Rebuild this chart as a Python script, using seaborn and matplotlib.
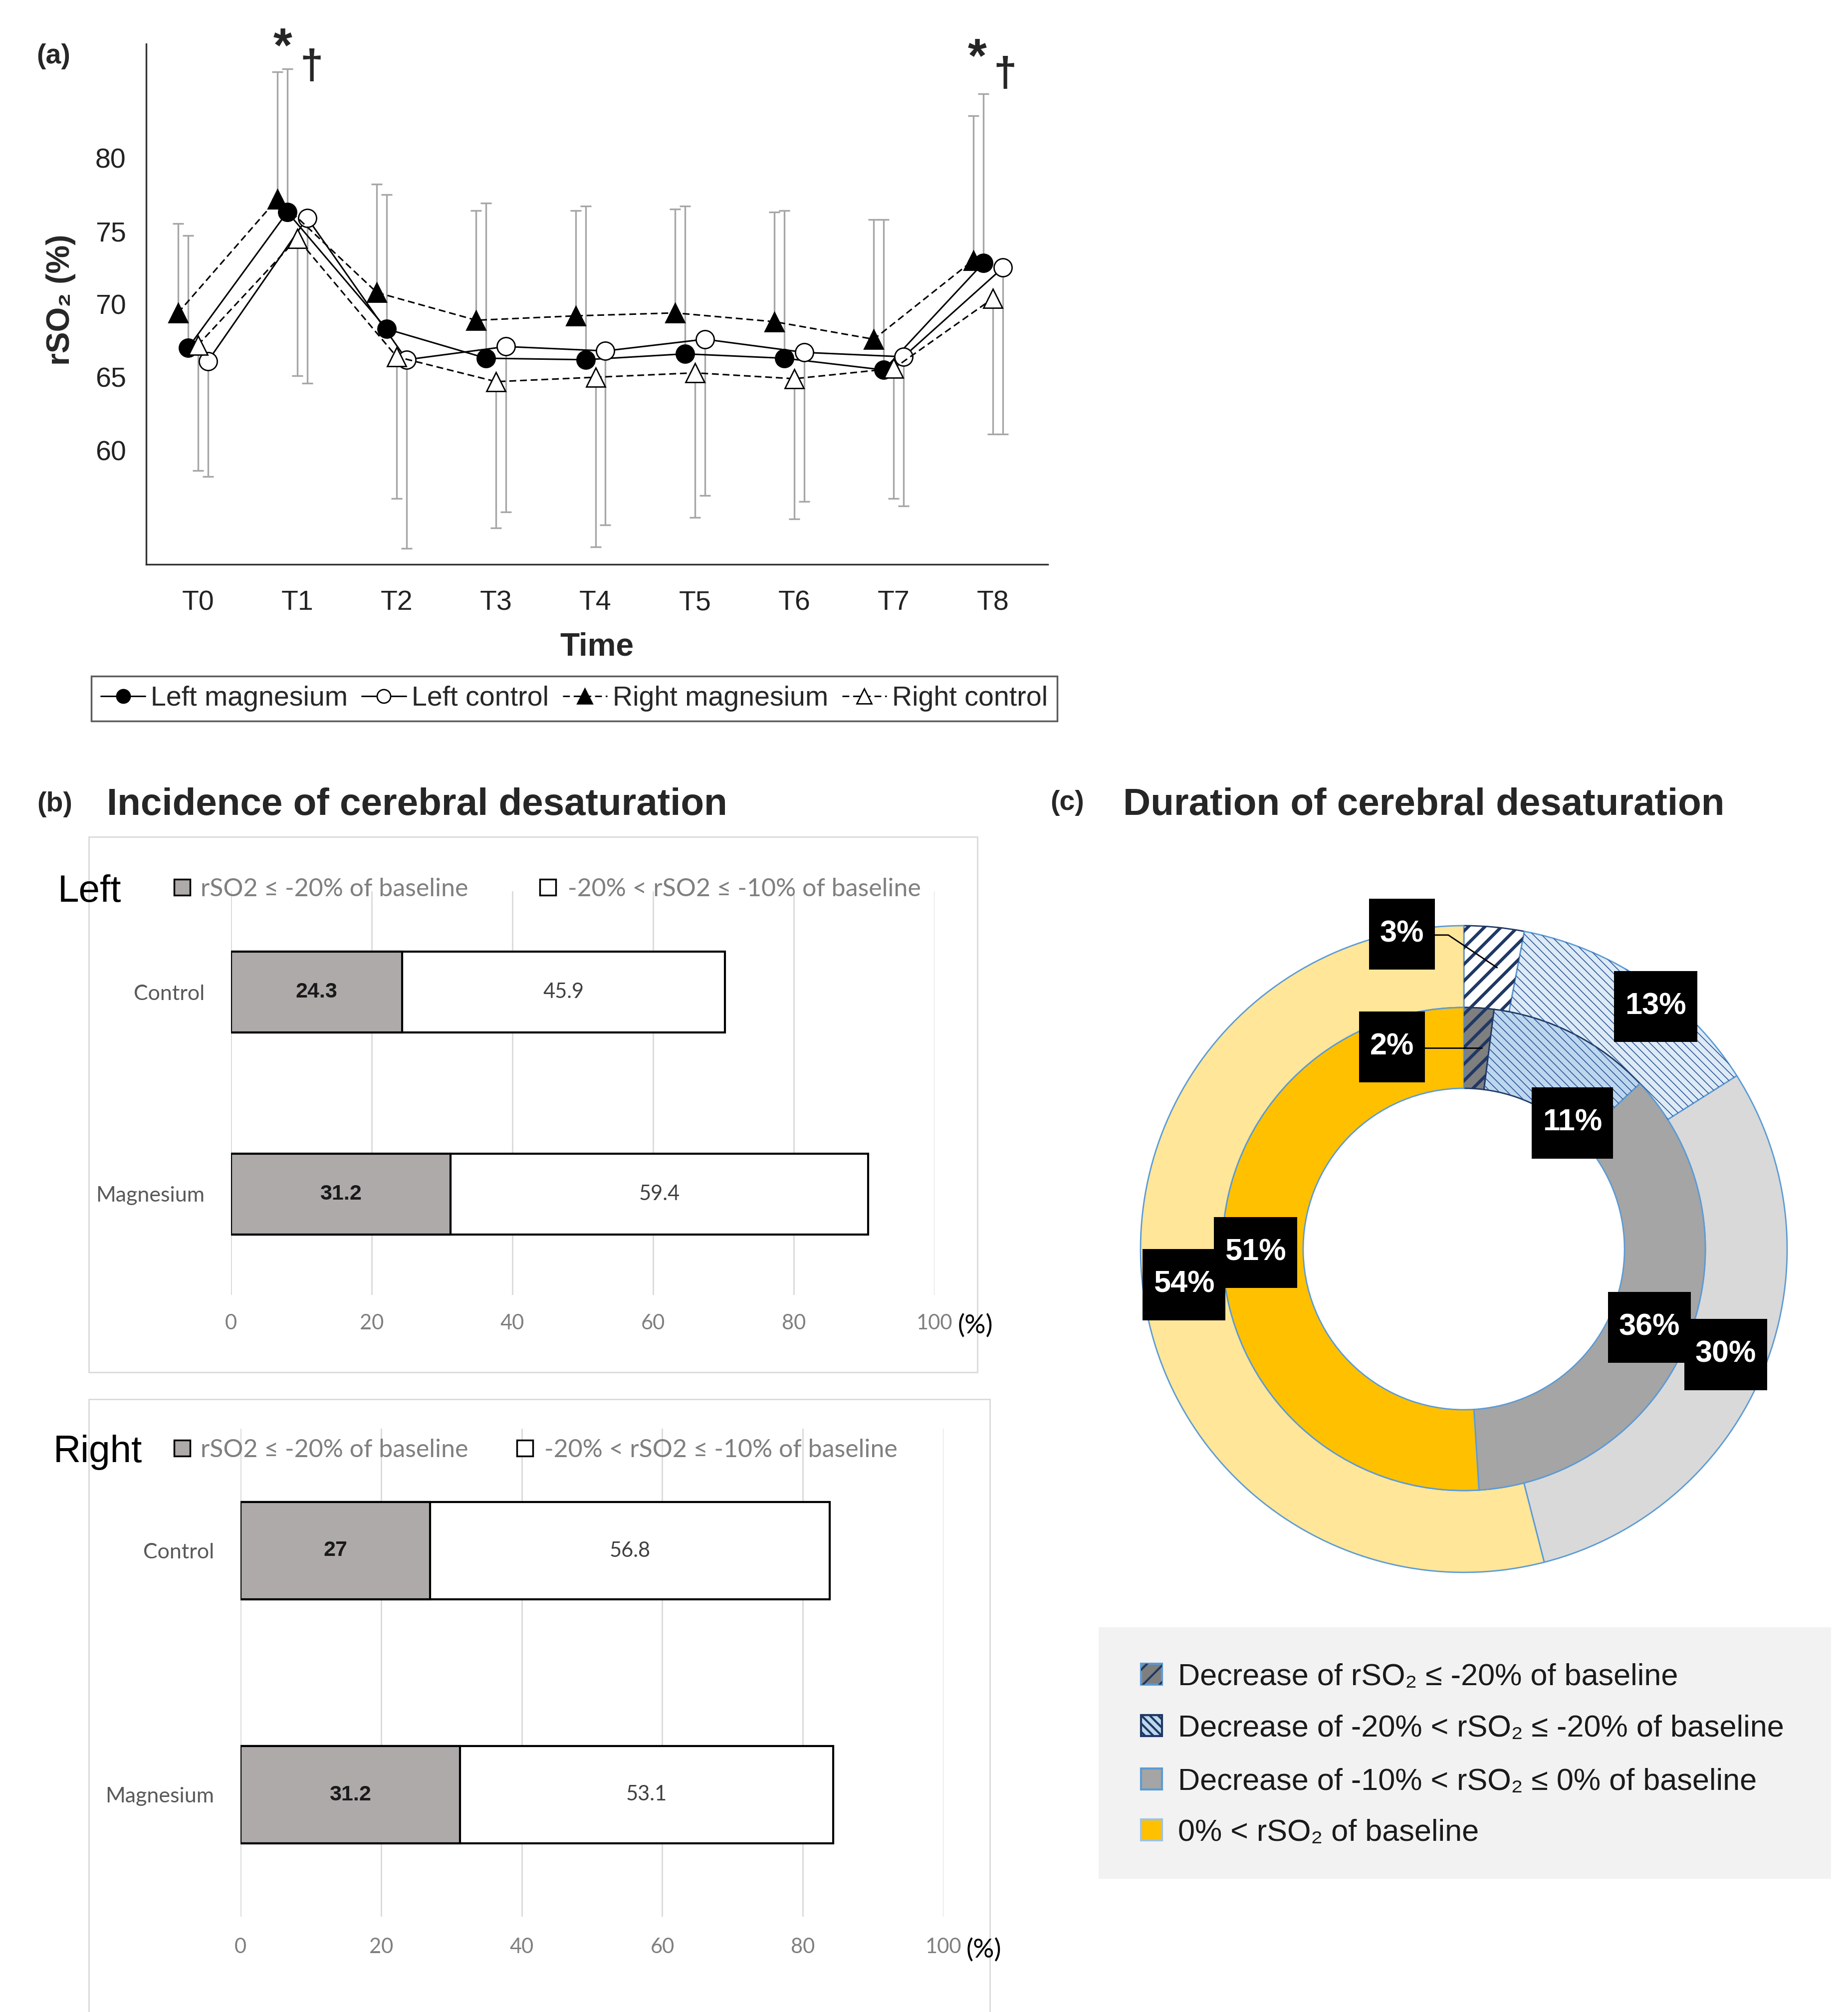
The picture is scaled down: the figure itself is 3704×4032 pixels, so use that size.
import numpy as np
import pandas as pd
import seaborn as sns
import matplotlib.pyplot as plt
from matplotlib.patches import Rectangle, Wedge
from matplotlib.path import Path

# ---- data: (a) rSO2 over time ----
time_labels = ['T0', 'T1', 'T2', 'T3', 'T4', 'T5', 'T6', 'T7', 'T8']
left_mg = [67.0, 76.3, 68.3, 66.3, 66.2, 66.6, 66.3, 65.5, 72.8]
left_ctrl = [66.1, 75.9, 66.2, 67.1, 66.8, 67.6, 66.7, 66.4, 72.5]
right_mg = [69.4, 77.2, 70.8, 68.9, 69.2, 69.4, 68.8, 67.6, 73.0]
right_ctrl = [67.2, 74.5, 66.4, 64.7, 65.0, 65.3, 64.9, 65.6, 70.4]
# magnesium groups: upper end of the error bar, control groups: lower end
left_mg_upper = [74.7, 86.1, 77.5, 76.9, 76.7, 76.7, 76.4, 75.8, 84.4]
right_mg_upper = [75.5, 85.9, 78.2, 76.4, 76.4, 76.5, 76.3, 75.8, 82.9]
left_ctrl_lower = [58.2, 64.6, 53.3, 55.8, 54.9, 56.9, 56.5, 56.2, 61.1]
right_ctrl_lower = [58.6, 65.1, 56.7, 54.7, 53.4, 55.4, 55.3, 56.7, 61.1]

# ---- data: (b) incidence ----
groups = ['Control', 'Magnesium']
left_severe = [24.3, 31.2]
left_moderate = [45.9, 59.4]
right_severe = [27, 31.2]
right_moderate = [56.8, 53.1]

# ---- data: (c) duration ----
outer_pct = [3, 13, 30, 54]
inner_pct = [2, 11, 36, 51]
duration_labels = ['Decrease of rSO\u2082 \u2264 -20% of baseline',
                   'Decrease of -20% < rSO\u2082 \u2264 -20% of baseline',
                   'Decrease of -10% < rSO\u2082 \u2264 0% of baseline',
                   '0% < rSO\u2082 of baseline']

W, H, DPI = 3705, 4032, 100
ARIAL = ['Liberation Sans', 'DejaVu Sans']
CALIBRI = ['Lato', 'DejaVu Sans']
NAVY = '#1F3864'
EDGE_BLUE = '#5B9BD5'

sns.set_theme(style='white')
plt.rcParams['font.family'] = ARIAL
plt.rcParams['hatch.linewidth'] = 3.0

fig = plt.figure(figsize=(W / DPI, H / DPI), dpi=DPI, facecolor='white')


def rect(x0, y0, x1, y1):
    return [x0 / W, 1 - y1 / H, (x1 - x0) / W, (y1 - y0) / H]


def ftext(x, yc, s, size, ha='left', **kw):
    yb = yc + 0.36 * size * DPI / 72
    return fig.text(x / W, 1 - yb / H, s, fontsize=size, ha=ha, va='baseline', **kw)


# ================= (a) =================
ax = fig.add_axes(rect(293, 88, 2100, 1131))
x = np.arange(len(time_labels))
dash = (0, (4.5, 2.5))
series = [
    ('Left magnesium', left_mg, 'o', 'black', '-', -0.1, 'up', left_mg_upper),
    ('Left control', left_ctrl, 'o', 'white', '-', 0.1, 'down', left_ctrl_lower),
    ('Right magnesium', right_mg, '^', 'black', dash, -0.2, 'up', right_mg_upper),
    ('Right control', right_ctrl, '^', 'white', dash, 0.0, 'down', right_ctrl_lower),
]
for name, mean, mk, fc, ls, off, side, lim in series:
    mean = np.array(mean)
    lim = np.array(lim)
    if side == 'up':
        yerr = [np.zeros_like(mean), lim - mean]
    else:
        yerr = [mean - lim, np.zeros_like(mean)]
    ax.errorbar(x + off, mean, yerr=yerr, fmt='none', ecolor='#A6A6A6',
                elinewidth=2.4, capsize=8, capthick=2.4, zorder=1)
for name, mean, mk, fc, ls, off, side, lim in series:
    sns.lineplot(x=x + off, y=mean, ax=ax, color='black', linewidth=2.2,
                 linestyle=ls, marker=mk, markersize=26 if mk == 'o' else 28,
                 markerfacecolor=fc, markeredgecolor='black', markeredgewidth=2,
                 label=name, errorbar=None, zorder=3)
handles, labels = ax.get_legend_handles_labels()
if ax.get_legend() is not None:
    ax.get_legend().remove()

ax.set_xlim(-0.52, 8.55)
ax.set_ylim(52.2, 87.8)
ax.set_yticks([60, 65, 70, 75, 80])
ax.set_xticks(x, time_labels)
ax.set_xlabel('')
ax.set_ylabel('')
sns.despine(ax=ax)
for s in ['left', 'bottom']:
    ax.spines[s].set_linewidth(2.4)
    ax.spines[s].set_color('#333333')
ax.tick_params(axis='both', length=13, width=2.2, color='#333333',
               labelsize=40, labelcolor='#222222', direction='out')
ax.tick_params(axis='y', pad=16)
ax.tick_params(axis='x', pad=24)

for xs, yb, s, fs in [(0.853, 86.6, '*', 70), (1.143, 85.4, '\u2020', 60),
                      (7.84, 85.9, '*', 70), (8.12, 84.9, '\u2020', 60)]:
    ax.text(xs, yb, s, fontsize=fs, fontweight='bold', ha='center', va='baseline',
            clip_on=False)

fig.text(122 / W, 1 - 601 / H, 'rSO\u2082 (%)', rotation=90, ha='center', va='center',
         fontsize=46, fontweight='bold')
ftext(1196, 1290, 'Time', 46, ha='center', fontweight='bold')
ftext(73, 107, '(a)', 40, fontweight='bold')

leg = fig.legend(handles, labels, loc='center', bbox_to_anchor=(1151 / W, 1 - 1400 / H),
                 ncol=4, fontsize=40, handlelength=1.6, handletextpad=0.2,
                 columnspacing=0.5, markerscale=0.75, frameon=True, fancybox=False,
                 edgecolor='#333333', borderpad=0.35)
leg.get_frame().set_linewidth(2.5)

# ================= (b) =================
ftext(74, 1606, '(b)', 40, fontweight='bold')
ftext(214, 1606, 'Incidence of cerebral desaturation', 55, fontweight='bold')

fig.patches.append(Rectangle((178 / W, 1 - 2750 / H), (1959 - 178) / W, (2750 - 1677) / H,
                             transform=fig.transFigure, fill=False, edgecolor='#D9D9D9',
                             linewidth=2))
fig.patches.append(Rectangle((178 / W, 1 - 4060 / H), (1984 - 178) / W, (4060 - 2804) / H,
                             transform=fig.transFigure, fill=False, edgecolor='#D9D9D9',
                             linewidth=2))


def incidence(axrect, severe, moderate, side, side_xy, leg_items, pct_xy, ypad):
    bx = fig.add_axes(rect(*axrect))
    df = pd.DataFrame({'group': groups, 'severe': severe, 'moderate': moderate})
    df['total'] = df['severe'] + df['moderate']
    sns.barplot(data=df, x='total', y='group', orient='h', color='white',
                edgecolor='black', linewidth=3, width=0.4, saturation=1, ax=bx)
    sns.barplot(data=df, x='severe', y='group', orient='h', color='#AEAAAA',
                edgecolor='black', linewidth=3, width=0.4, saturation=1, ax=bx)
    for i, row in df.iterrows():
        bx.text(row['severe'] / 2, i, f"{row['severe']:g}", ha='center', va='center',
                fontsize=31, fontweight='bold', color='#1A1A1A', family=ARIAL)
        bx.text(row['severe'] + row['moderate'] / 2, i, f"{row['moderate']:g}",
                ha='center', va='center', fontsize=30, color='#404040', family=CALIBRI)
    bx.set_xlim(0, 100)
    bx.set_ylim(1.5, -0.5)
    bx.set_xticks(range(0, 101, 20))
    bx.grid(axis='x', color='#D9D9D9', linewidth=2)
    bx.set_axisbelow(True)
    bx.set_xlabel('')
    bx.set_ylabel('')
    for s in bx.spines.values():
        s.set_visible(False)
    bx.tick_params(axis='x', length=0, pad=ypad, labelsize=30, labelcolor='#7F7F7F')
    bx.tick_params(axis='y', length=0, pad=38, labelsize=31, labelcolor='#595959')
    for lbl in bx.get_xticklabels() + bx.get_yticklabels():
        lbl.set_fontfamily(CALIBRI)
    ftext(side_xy[0], side_xy[1], side, 55, color='black')
    for (sq_x, tx_x, yc, fc, txt) in leg_items:
        fig.patches.append(Rectangle(((sq_x - 16) / W, 1 - (yc + 16) / H), 32 / W, 32 / H,
                                     transform=fig.transFigure, facecolor=fc,
                                     edgecolor='black', linewidth=2.5))
        ftext(tx_x, yc, txt, 36, color='#7F7F7F', family=CALIBRI)
    ftext(pct_xy[0], pct_xy[1], '(%)', 38, ha='center', color='black', family=CALIBRI)


incidence((463, 1786, 1873, 2595), left_severe, left_moderate, 'Left', (116, 1780),
          [(365, 402, 1778, '#AEAAAA', 'rSO2 \u2264 -20% of baseline'),
           (1098, 1138, 1778, 'white', '-20% < rSO2 \u2264 -10% of baseline')],
          (1955, 2653), 27)
incidence((482, 2863, 1891, 3841), right_severe, right_moderate, 'Right', (107, 2902),
          [(365, 402, 2902, '#AEAAAA', 'rSO2 \u2264 -20% of baseline'),
           (1052, 1091, 2902, 'white', '-20% < rSO2 \u2264 -10% of baseline')],
          (1972, 3904), 30)

# ================= (c) =================
ftext(2105, 1603, '(c)', 40, fontweight='bold')
ftext(2251, 1606, 'Duration of cerebral desaturation', 55, fontweight='bold')

cx, cy, R = 2934, 2503, 648
axc = fig.add_axes(rect(cx - R, cy - R, cx + R, cy + R))
outer_colors = ['white', '#DDEBF7', '#D9D9D9', '#FFE699']
inner_colors = ['#7F7F7F', '#BDD7EE', '#A5A5A5', '#FFC000']
outer_w, _ = axc.pie(outer_pct, radius=1.0, startangle=90, counterclock=False,
                     colors=outer_colors,
                     wedgeprops=dict(width=0.253, edgecolor=EDGE_BLUE, linewidth=2))
inner_w, _ = axc.pie(inner_pct, radius=0.747, startangle=90, counterclock=False,
                     colors=inner_colors,
                     wedgeprops=dict(width=0.25, edgecolor=EDGE_BLUE, linewidth=2))


def hatch_over(w, pattern, color, hlw, edge=None):
    h = Wedge(w.center, w.r, w.theta1, w.theta2, width=w.width, fill=False,
              hatch=pattern, edgecolor=color, linewidth=0, zorder=w.get_zorder() + 0.1)
    if hasattr(h, 'set_hatch_linewidth'):
        h.set_hatch_linewidth(hlw)
    axc.add_patch(h)
    if edge is not None:
        w.set_edgecolor(edge)


hatch_over(outer_w[0], '/', NAVY, 4.5, edge=NAVY)
hatch_over(outer_w[1], '\\\\', '#2F5597', 1.2)
hatch_over(inner_w[0], '/', NAVY, 4.5, edge=NAVY)
hatch_over(inner_w[1], '\\\\', '#2F5597', 1.2, edge=NAVY)
axc.set_xlim(-1, 1)
axc.set_ylim(-1, 1)
axc.set_aspect('equal')
axc.axis('off')

axc.plot([-0.091, -0.048, 0.103], [0.971, 0.971, 0.870], color='black', lw=2, zorder=5)
axc.plot([-0.122, 0.056], [0.622, 0.622], color='black', lw=2, zorder=5)


def label_box(x0, y0, width, height, mutation_size):
    px, py = 0.36 * mutation_size, 0.7 * mutation_size
    return Path([(x0 - px, y0 - py), (x0 + width + px, y0 - py),
                 (x0 + width + px, y0 + height + py), (x0 - px, y0 + height + py),
                 (x0 - px, y0 - py)], closed=True)


box = dict(boxstyle=label_box, facecolor='black', edgecolor='none')
label_pos = [
    (-0.222, 0.625, '2%'), (0.336, 0.390, '11%'), (0.574, -0.242, '36%'),
    (-0.644, -0.011, '51%'),
    (-0.191, 0.974, '3%'), (0.593, 0.750, '13%'), (0.810, -0.326, '30%'),
    (-0.866, -0.110, '54%'),
]
for lx, ly, s in label_pos:
    axc.text(lx, ly, s, ha='center', va='center', fontsize=44, fontweight='bold',
             color='white', bbox=box, zorder=6, clip_on=False)

# legend of (c)
fig.patches.append(Rectangle((2202 / W, 1 - 3765 / H), (3670 - 2202) / W, (3765 - 3261) / H,
                             transform=fig.transFigure, facecolor='#F2F2F2',
                             edgecolor='none'))
icon_style = [
    ('#7F7F7F', '/', NAVY, EDGE_BLUE),
    ('#BDD7EE', '\\\\', NAVY, NAVY),
    ('#A5A5A5', None, None, EDGE_BLUE),
    ('#FFC000', None, None, '#9DC3E6'),
]
for (fc, hp, hc, ec), txt, yc in zip(icon_style, duration_labels, [3355, 3458, 3565, 3667]):
    fig.patches.append(Rectangle((2287 / W, 1 - (yc + 21) / H), 42 / W, 42 / H,
                                 transform=fig.transFigure, facecolor=fc,
                                 edgecolor=ec, linewidth=3))
    if hp:
        fig.patches.append(Rectangle((2287 / W, 1 - (yc + 21) / H), 42 / W, 42 / H,
                                     transform=fig.transFigure, fill=False, hatch=hp,
                                     edgecolor=hc, linewidth=0))
    ftext(2361, yc, txt, 44, color='#1A1A1A')

fig.savefig('out.png', dpi=DPI, facecolor='white')
